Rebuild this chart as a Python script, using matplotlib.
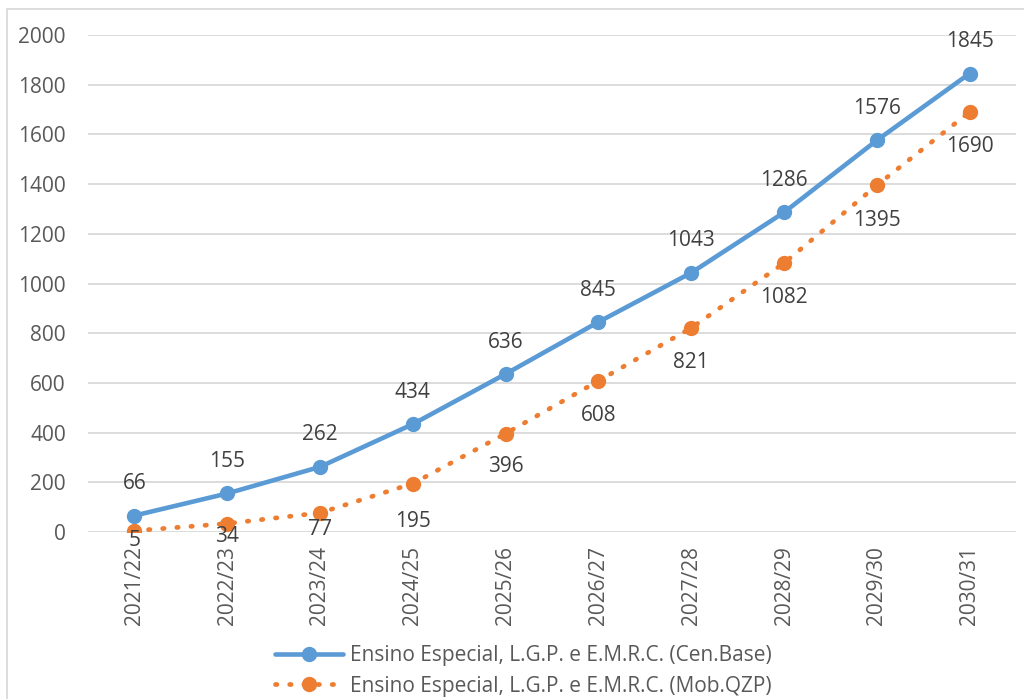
import matplotlib
matplotlib.use("Agg")
import matplotlib.pyplot as plt
from matplotlib.patches import Rectangle

categories = ["2021/22", "2022/23", "2023/24", "2024/25", "2025/26",
              "2026/27", "2027/28", "2028/29", "2029/30", "2030/31"]
cen_base = [66, 155, 262, 434, 636, 845, 1043, 1286, 1576, 1845]
mob_qzp = [5, 34, 77, 195, 396, 608, 821, 1082, 1395, 1690]
series_names = ["Ensino Especial, L.G.P. e E.M.R.C. (Cen.Base)",
                "Ensino Especial, L.G.P. e E.M.R.C. (Mob.QZP)"]
yticks = [0, 200, 400, 600, 800, 1000, 1200, 1400, 1600, 1800, 2000]

# label offsets (points) below orange markers (Excel squeezes the lowest ones)
orange_offsets = [-7, -9, -12, -27, -24, -25, -25, -25, -25, -25]

plt.rcParams['font.family'] = ['Open Sans', 'DejaVu Sans']
BLUE = "#5B9BD5"
ORANGE = "#ED7D31"
GRAY = "#595959"

fig = plt.figure(figsize=(10.24, 6.99), dpi=100)
ax = fig.add_axes([88/1024, 1-532/699, (1016-88)/1024, (532-35)/699])

x = list(range(len(categories)))
ax.plot(x, cen_base, color=BLUE, lw=3.3, marker='o', ms=10,
        solid_capstyle='round', label=series_names[0], zorder=3)
ax.plot(x, mob_qzp, color=ORANGE, lw=3.4, ls=(0, (0.3, 2.7)), dash_capstyle='round',
        marker='o', ms=10, label=series_names[1], zorder=3)

for xi, v in zip(x, cen_base):
    ax.annotate(str(v), (xi, v), xytext=(0, 23), textcoords='offset points',
                ha='center', va='center', fontsize=15, color="#404040")
for xi, v, off in zip(x, mob_qzp, orange_offsets):
    ax.annotate(str(v), (xi, v), xytext=(0, off), textcoords='offset points',
                ha='center', va='center', fontsize=15, color="#404040")

ax.set_xlim(-0.5, len(categories) - 0.5)
ax.set_ylim(0, 2000)
ax.set_yticks(yticks)
ax.set_xticks(x)
ax.set_xticklabels(categories, rotation=90)
ax.tick_params(axis='both', length=0, labelsize=15, labelcolor=GRAY)
ax.tick_params(axis='y', pad=16)
ax.tick_params(axis='x', pad=10)
ax.grid(axis='y', color="#D9D9D9", lw=1.3)
ax.set_axisbelow(True)
for s in ax.spines.values():
    s.set_visible(False)

leg = fig.legend(loc='center', bbox_to_anchor=(523/1024, 1-671/699), ncol=1,
                 frameon=False, fontsize=15, handlelength=3.3, handletextpad=0.3,
                 labelspacing=0.45, labelcolor=GRAY, markerscale=1.0)

fig.patches.append(Rectangle((7/1024, -0.05), 1.2, 1-9/699+0.05, transform=fig.transFigure,
                             fill=False, edgecolor="#D9D9D9", lw=1.3))

fig.savefig("out.png", dpi=100)
